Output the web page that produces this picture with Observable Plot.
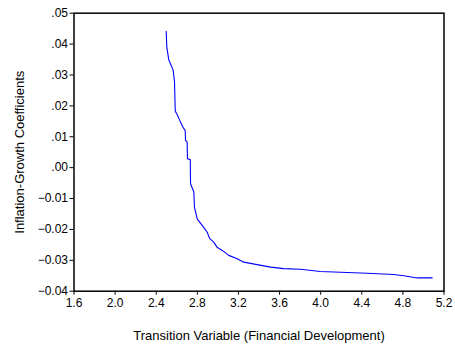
<!DOCTYPE html>
<html>
<head>
<meta charset="utf-8">
<script src="https://cdn.jsdelivr.net/npm/d3@7"></script>
<script src="https://cdn.jsdelivr.net/npm/@observablehq/plot@0.6"></script>
<style>
  html, body { margin: 0; padding: 0; background: #fff; }
  #chart { width: 455px; height: 346px; }
</style>
</head>
<body>
<div id="chart"></div>
<script>
const transitionVar = [2.497, 2.503, 2.513, 2.522, 2.546, 2.565, 2.578, 2.585, 2.604, 2.629, 2.656, 2.682, 2.685, 2.701, 2.704, 2.731, 2.734, 2.766, 2.772, 2.799, 2.824, 2.857, 2.896, 2.921, 2.960, 2.993, 3.042, 3.106, 3.188, 3.252, 3.382, 3.512, 3.641, 3.804, 3.998, 4.452, 4.711, 4.809, 4.939, 5.085];
const coefficients = [0.0441, 0.0390, 0.0369, 0.0349, 0.0331, 0.0315, 0.0277, 0.0183, 0.0172, 0.0153, 0.0133, 0.0120, 0.0088, 0.0083, 0.0029, 0.0026, -0.0052, -0.0079, -0.0128, -0.0166, -0.0177, -0.0191, -0.0209, -0.0230, -0.0241, -0.0258, -0.0268, -0.0284, -0.0295, -0.0306, -0.0314, -0.0322, -0.0327, -0.0329, -0.0336, -0.0342, -0.0346, -0.0350, -0.0357, -0.0357];
const xTicks = [1.6, 2.0, 2.4, 2.8, 3.2, 3.6, 4.0, 4.4, 4.8, 5.2];
const yTicks = [-0.04, -0.03, -0.02, -0.01, 0.00, 0.01, 0.02, 0.03, 0.04, 0.05];
const xLabel = "Transition Variable (Financial Development)";
const yLabel = "Inflation-Growth Coefficients";

const data = transitionVar.map((x, i) => ({x, y: coefficients[i]}));
const yFmt = v => {
  const s = d3.format(".2f")(Math.abs(v) < 1e-9 ? 0 : v);
  return s.replace(/^(-?)0\./, "$1.");
};

const chart = Plot.plot({
  width: 455,
  height: 346,
  marginLeft: 73.5,
  marginRight: 11.5,
  marginTop: 12.7,
  marginBottom: 55.3,
  style: {fontFamily: "Liberation Sans, Arial, sans-serif", fontSize: "12px", color: "#000", background: "#fff"},
  x: {domain: [1.6, 5.2]},
  y: {domain: [-0.04, 0.05]},
  marks: [
    Plot.axisX({ticks: xTicks, tickSize: 4, tickPadding: 3, tickFormat: d3.format(".1f"), label: null, fontSize: 12}),
    Plot.axisX({ticks: [], tickSize: 0, label: xLabel, labelAnchor: "center", labelArrow: "none", labelOffset: 49, fontSize: 13}),
    Plot.axisY({ticks: yTicks, tickSize: 4, tickPadding: 2, tickFormat: yFmt, label: null, fontSize: 12}),
    Plot.axisY({ticks: [], tickSize: 0, label: yLabel, labelAnchor: "center", labelArrow: "none", labelOffset: 59, fontSize: 13}),
    Plot.frame({stroke: "#000", strokeWidth: 1.5}),
    Plot.line(data, {x: "x", y: "y", stroke: "#0000ff", strokeWidth: 1.1})
  ]
});
document.getElementById("chart").appendChild(chart);
</script>
</body>
</html>
